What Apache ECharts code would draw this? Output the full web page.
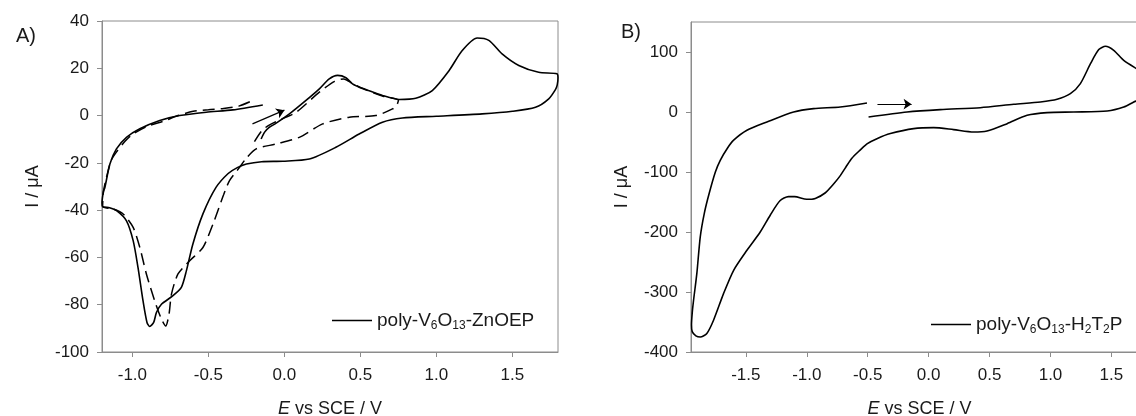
<!DOCTYPE html>
<html>
<head>
<meta charset="utf-8">
<script src="https://cdn.jsdelivr.net/npm/echarts@6/dist/echarts.min.js"></script>
<style>
html,body{margin:0;padding:0;background:#fff;}
#chart{width:1136px;height:416px;}
</style>
</head>
<body>
<div id="chart"></div>
<script>
// ---------- Panel A: poly-V6O13-ZnOEP ----------
const aSolidE = [-0.153,-0.13,-0.10,-0.054,0.033,0.142,0.23,0.295,0.35,0.405,0.448,0.492,0.536,0.645,0.755,0.864,0.973,1.083,1.17,1.268,1.345,1.432,1.542,1.673,1.793,1.800,1.795,1.783,1.739,1.652,1.50,1.301,1.00,0.776,0.645,0.492,0.339,0.164,-0.01,-0.15,-0.25,-0.31,-0.37,-0.45,-0.536,-0.602,-0.645,-0.678,-0.733,-0.809,-0.842,-0.86,-0.886,-0.904,-0.93,-0.963,-0.995,-1.039,-1.104,-1.15,-1.196,-1.20,-1.19,-1.181,-1.148,-1.105,-1.039,-0.951,-0.82,-0.689,-0.514,-0.339,-0.142];
const aSolidI = [-9.9,-7.0,-5.0,-3.2,0.7,6.4,11.3,15.5,17.0,16.0,13.4,12.0,11.0,8.5,6.8,7.3,10.6,19.0,27.5,32.8,31.8,26.1,21.2,18.3,17.7,16.0,13.0,11.0,7.1,3.5,1.8,0.7,-0.3,-1.0,-2.8,-7.8,-13.4,-18.4,-19.3,-19.5,-20.5,-22.0,-24.5,-30.4,-41.6,-54.3,-65.7,-72.7,-76.2,-79.8,-83.3,-87.5,-89.2,-87.5,-78.4,-64.3,-52.9,-44.5,-40.2,-39.0,-38.5,-37.0,-32.0,-30.4,-20.5,-14.1,-9.2,-5.6,-2.1,0.0,1.4,2.4,4.5];

const aDashE = [-0.197,-0.15,-0.10,0.0,0.08,0.23,0.33,0.39,0.45,0.55,0.65,0.75,0.74,0.711,0.601,0.427,0.252,0.098,-0.054,-0.186,-0.25,-0.295,-0.361,-0.40,-0.47,-0.536,-0.623,-0.70,-0.743,-0.759,-0.781,-0.809,-0.853,-0.908,-0.951,-0.995,-1.061,-1.126,-1.196,-1.19,-1.17,-1.14,-1.10,-1.05,-1.0,-0.9,-0.8,-0.7,-0.6,-0.5,-0.4,-0.3,-0.208];
const aDashI = [-11.0,-6.5,-4.0,-1.0,1.5,9.9,14.5,15.5,13.5,10.5,8.2,6.5,4.5,2.8,0.0,-0.7,-3.5,-9.2,-12.0,-14.1,-18.0,-21.9,-27.5,-33.5,-45.9,-55.8,-61.4,-67.0,-75.5,-84.0,-89.0,-86.1,-78.4,-67.0,-55.8,-47.3,-41.6,-39.5,-38.5,-32.0,-26.0,-19.0,-15.0,-11.0,-8.0,-4.5,-2.5,0.0,1.8,2.5,3.0,4.0,6.4];

const aArrow = [[-0.21,-3.5],[0.0,2.3]];
const aXTicks = [-1.0,-0.5,0.0,0.5,1.0,1.5];
const aYTicks = [-100,-80,-60,-40,-20,0,20,40];

// ---------- Panel B: poly-V6O13-H2T2P ----------
const bE = [-0.493,-0.177,0.096,0.424,0.698,0.917,1.054,1.163,1.245,1.328,1.396,1.451,1.519,1.601,1.705,1.76,1.78,1.77,1.74,1.683,1.601,1.465,1.19,0.972,0.808,0.644,0.479,0.369,0.205,0.041,-0.123,-0.314,-0.42,-0.506,-0.56,-0.63,-0.68,-0.725,-0.78,-0.85,-0.93,-1.0,-1.10,-1.15,-1.22,-1.30,-1.382,-1.491,-1.60,-1.683,-1.765,-1.82,-1.874,-1.91,-1.94,-1.946,-1.94,-1.929,-1.902,-1.874,-1.84,-1.80,-1.75,-1.71,-1.65,-1.60,-1.491,-1.327,-1.108,-0.944,-0.725,-0.506];
const bI = [-8.3,0.0,4.0,7.2,12.8,16.7,21.2,30.5,47.3,80.5,104.0,109.5,102.8,86.0,72.3,66.0,55.0,35.0,22.0,16.7,8.3,1.7,0.0,-1.0,-5.5,-19.4,-31.6,-33.3,-29.4,-26.0,-27.7,-36.0,-44.0,-53.0,-63.0,-77.0,-92.0,-106.0,-120.0,-135.0,-144.0,-145.5,-141.0,-141.0,-148.0,-172.0,-200.0,-230.5,-263.8,-302.7,-347.0,-369.0,-375.0,-373.0,-366.0,-355.0,-335.0,-313.8,-269.0,-208.0,-168.0,-135.0,-100.0,-80.5,-60.0,-47.0,-30.5,-16.7,0.0,5.6,8.3,15.0];

const bArrow = [[-0.42,13.5],[-0.14,13.0]];
const bXTicks = [-1.5,-1.0,-0.5,0.0,0.5,1.0,1.5];
const bYTicks = [-400,-300,-200,-100,0,100];

const nameA = 'poly-V6O13-ZnOEP';
const nameB = 'poly-V6O13-H2T2P';

const zip = (xs, ys) => xs.map((x, i) => [x, ys[i]]);

const FONT = '"Liberation Sans", Arial, sans-serif';
const TXT = '#1a1a1a';
const AX = '#8c8c8c';

function xAxisCfg(gi, min, max, ticks) {
  return {
    type: 'value', gridIndex: gi, min: min, max: max,
    name: '{i|E} vs SCE / V', nameLocation: 'middle', nameGap: 48,
    nameTextStyle: { color: TXT, fontSize: 18, fontFamily: FONT, rich: { i: { fontStyle: 'italic', fontSize: 18, fontFamily: FONT, color: TXT } } },
    axisLine: { show: true, onZero: false, lineStyle: { color: AX, width: 1 } },
    axisTick: { show: true, inside: false, length: 5, lineStyle: { color: AX }, customValues: ticks },
    axisLabel: { color: TXT, fontSize: 17, fontFamily: FONT, margin: 15, customValues: ticks, formatter: v => v.toFixed(1) },
    splitLine: { show: false }
  };
}
function yAxisCfg(gi, min, max, ticks) {
  return {
    type: 'value', gridIndex: gi, min: min, max: max,
    name: 'I / μA', nameLocation: 'middle', nameGap: 60,
    nameTextStyle: { color: TXT, fontSize: 18, fontFamily: FONT },
    axisLine: { show: true, onZero: false, lineStyle: { color: AX, width: 1 } },
    axisTick: { show: true, inside: false, length: 5, lineStyle: { color: AX }, customValues: ticks },
    axisLabel: { color: TXT, fontSize: 17, fontFamily: FONT, margin: 13, customValues: ticks },
    splitLine: { show: false }
  };
}

const legendRich = {
  m: { fontSize: 19, fontFamily: FONT, color: TXT, lineHeight: 23 },
  s: { fontSize: 12, fontFamily: FONT, color: TXT, lineHeight: 12, verticalAlign: 'bottom' }
};
function legendFmt(name) {
  if (name === nameA) return '{m|poly-V}{s|6}{m|O}{s|13}{m|-ZnOEP}';
  return '{m|poly-V}{s|6}{m|O}{s|13}{m|-H}{s|2}{m|T}{s|2}{m|P}';
}

const chart = echarts.init(document.getElementById('chart'), null, { renderer: 'canvas' });
chart.setOption({
  animation: false,
  backgroundColor: '#fff',
  title: [
    { text: 'A)', left: 11, top: 21, textStyle: { fontSize: 20, fontWeight: 'normal', color: TXT, fontFamily: FONT } },
    { text: 'B)', left: 616, top: 17, textStyle: { fontSize: 20, fontWeight: 'normal', color: TXT, fontFamily: FONT } }
  ],
  grid: [
    { left: 102, top: 21, width: 456, height: 331, show: true, borderColor: AX, borderWidth: 1, backgroundColor: 'transparent', outerBoundsMode: 'none', containLabel: false },
    { left: 691, top: 22, width: 457, height: 330, show: true, borderColor: AX, borderWidth: 1, backgroundColor: 'transparent', outerBoundsMode: 'none', containLabel: false }
  ],
  xAxis: [xAxisCfg(0, -1.2, 1.8, aXTicks), xAxisCfg(1, -1.95, 1.8, bXTicks)],
  yAxis: [yAxisCfg(0, -100, 40, aYTicks), yAxisCfg(1, -400, 150, bYTicks)],
  legend: [
    { data: [nameA], left: 327, top: 306, icon: 'rect', itemWidth: 40, itemHeight: 1.5, itemGap: 8,
      formatter: legendFmt, textStyle: { rich: legendRich }, selectedMode: false },
    { data: [nameB], left: 926, top: 310, icon: 'rect', itemWidth: 40, itemHeight: 1.5, itemGap: 8,
      formatter: legendFmt, textStyle: { rich: legendRich }, selectedMode: false }
  ],
  series: [
    { name: nameA, type: 'line', xAxisIndex: 0, yAxisIndex: 0, data: zip(aSolidE, aSolidI), showSymbol: false, smooth: 0.25,
      lineStyle: { color: '#000', width: 1.6 }, itemStyle: { color: '#000' }, clip: true },
    { name: 'A dashed', type: 'line', xAxisIndex: 0, yAxisIndex: 0, data: zip(aDashE, aDashI), showSymbol: false, smooth: 0.25,
      lineStyle: { color: '#000', width: 1.5, type: [12, 6] }, itemStyle: { color: '#000' }, clip: true },
    { name: 'A arrow', type: 'lines', coordinateSystem: 'cartesian2d', xAxisIndex: 0, yAxisIndex: 0,
      data: [{ coords: aArrow }], symbol: ['none', 'arrow'], symbolSize: 8, lineStyle: { color: '#000', width: 1.2, opacity: 1 } },
    { name: nameB, type: 'line', xAxisIndex: 1, yAxisIndex: 1, data: zip(bE, bI), showSymbol: false, smooth: 0.25,
      lineStyle: { color: '#000', width: 1.6 }, itemStyle: { color: '#000' }, clip: true },
    { name: 'B arrow', type: 'lines', coordinateSystem: 'cartesian2d', xAxisIndex: 1, yAxisIndex: 1,
      data: [{ coords: bArrow }], symbol: ['none', 'arrow'], symbolSize: 8, lineStyle: { color: '#000', width: 1.2, opacity: 1 } }
  ]
});
</script>
</body>
</html>
